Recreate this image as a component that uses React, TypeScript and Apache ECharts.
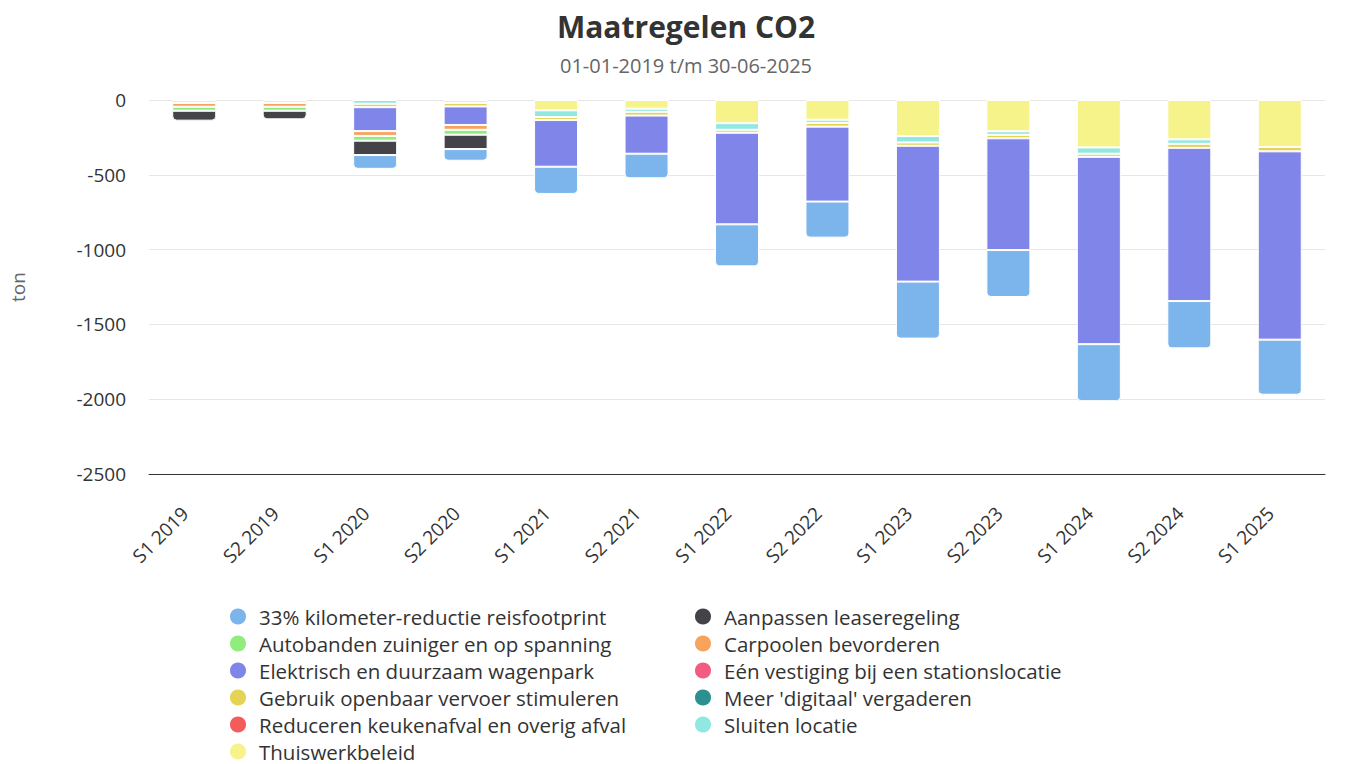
import React, { useEffect, useRef } from "react";
import * as echarts from "echarts";

const categories = [
  "S1 2019", "S2 2019", "S1 2020", "S2 2020", "S1 2021", "S2 2021", "S1 2022",
  "S2 2022", "S1 2023", "S2 2023", "S1 2024", "S2 2024", "S1 2025",
];

// values in ton (reductions, negative)
const kilometerReductie = [0, 0, -92, -78, -182, -164, -281, -241, -381, -314, -381, -316, -368];
const aanpassenLease = [-66, -57, -96, -96, 0, 0, 0, 0, 0, 0, 0, 0, 0];
const autobanden = [-27, -27, -32, -33, 0, 0, 0, 0, 0, 0, 0, 0, 0];
const carpoolen = [-25, -25, -32, -32, 0, 0, 0, 0, 0, 0, 0, 0, 0];
const elektrisch = [0, 0, -160, -124, -312, -255, -612, -501, -908, -747, -1252, -1024, -1259];
const eenVestiging = [0, 0, 0, 0, 0, 0, 0, 0, 0, 0, 0, 0, 0];
const gebruikOV = [0, 0, -23, -23, -20, -25, -20, -25, -22, -23, -21, -27, -29];
const meerDigitaal = [0, 0, 0, 0, 0, 0, 0, 0, 0, 0, 0, 0, 0];
const reducerenAfval = [0, 0, 0, 0, 0, 0, 0, 0, 0, 0, 0, 0, 0];
const sluitenLocatie = [0, 0, -25, 0, -45, -21, -44, -21, -43, -24, -42, -30, 0];
const thuiswerk = [-20, -20, 0, -20, -69, -58, -155, -132, -241, -209, -317, -263, -314];

const yTicks = { min: -2500, max: 0, interval: 500 };

const seriesDefs = [
  { name: "33% kilometer-reductie reisfootprint", data: kilometerReductie, color: "#7cb5ec" },
  { name: "Aanpassen leaseregeling", data: aanpassenLease, color: "#434348" },
  { name: "Autobanden zuiniger en op spanning", data: autobanden, color: "#90ed7d" },
  { name: "Carpoolen bevorderen", data: carpoolen, color: "#f7a35c" },
  { name: "Elektrisch en duurzaam wagenpark", data: elektrisch, color: "#8085e9" },
  { name: "Eén vestiging bij een stationslocatie", data: eenVestiging, color: "#f15c80" },
  { name: "Gebruik openbaar vervoer stimuleren", data: gebruikOV, color: "#e4d354" },
  { name: "Meer 'digitaal' vergaderen", data: meerDigitaal, color: "#2b908f" },
  { name: "Reduceren keukenafval en overig afval", data: reducerenAfval, color: "#f45b5b" },
  { name: "Sluiten locatie", data: sluitenLocatie, color: "#91e8e1" },
  { name: "Thuiswerkbeleid", data: thuiswerk, color: "#f6f38a" },
];

const FONT = "'Open Sans', 'Noto Sans', sans-serif";

export default function App() {
  const ref = useRef<HTMLDivElement>(null);

  useEffect(() => {
    if (!ref.current) return;
    const chart = echarts.init(ref.current, undefined, { renderer: "svg" });

    // stacking order: last legend series closest to zero
    const stackOrder = [...seriesDefs].reverse();
    // bottom-most non-zero segment per category gets rounded corners
    const lastIdx = categories.map((_, ci) => {
      let idx = -1;
      stackOrder.forEach((s, si) => {
        if (s.data[ci] !== 0) idx = si;
      });
      return idx;
    });

    const series = stackOrder.map((s, si) => ({
      name: s.name,
      type: "bar",
      stack: "total",
      barWidth: 44,
      itemStyle: { color: s.color, borderColor: "#ffffff", borderWidth: 1 },
      emphasis: { disabled: true },
      data: s.data.map((v, ci) => {
        if (v === 0) return "-";
        if (lastIdx[ci] === si) {
          return { value: v, itemStyle: { borderRadius: [0, 0, 4, 4] } };
        }
        return v;
      }),
    }));

    const names = seriesDefs.map((s) => s.name);
    const col1 = names.filter((_, i) => i % 2 === 0);
    const col2 = names.filter((_, i) => i % 2 === 1);

    const legendBase = {
      orient: "vertical",
      top: 601,
      height: 200,
      itemWidth: 32,
      itemHeight: 18,
      itemGap: 6,
      icon: "circle",
      selectedMode: false,
      textStyle: { fontSize: 20.5, lineHeight: 20, color: "#333333", fontFamily: FONT },
    };

    chart.setOption({
      animation: false,
      color: seriesDefs.map((s) => s.color),
      title: {
        text: "Maatregelen CO2",
        subtext: "01-01-2019 t/m 30-06-2025",
        left: "center",
        top: 6,
        itemGap: 14,
        textStyle: { fontSize: 30, fontWeight: "bold", color: "#333333", fontFamily: FONT },
        subtextStyle: { fontSize: 20, color: "#666666", fontFamily: FONT },
      },
      legend: [
        { ...legendBase, left: 223, data: col1 },
        { ...legendBase, left: 688, data: col2 },
      ],
      grid: { left: 148, right: 47, top: 100, bottom: 290, containLabel: false },
      xAxis: {
        type: "category",
        data: categories,
        axisLine: { show: true, onZero: false, lineStyle: { color: "#333333", width: 1 } },
        axisTick: { show: false },
        axisLabel: {
          rotate: 45,
          fontSize: 19,
          color: "#333333",
          fontFamily: FONT,
          margin: 27,
          padding: [0, 13, 0, 0],
          interval: 0,
        },
      },
      yAxis: {
        type: "value",
        min: yTicks.min,
        max: yTicks.max,
        interval: yTicks.interval,
        name: "ton",
        nameLocation: "middle",
        nameGap: 122,
        nameTextStyle: { fontSize: 19, color: "#666666", fontFamily: FONT },
        axisLine: { show: false },
        axisTick: { show: false },
        splitLine: { lineStyle: { color: "#e6e6e6", width: 1 } },
        axisLabel: {
          fontSize: 19,
          color: "#333333",
          fontFamily: FONT,
          margin: 23,
          formatter: (v: number) => String(v),
        },
      },
      series,
    });

    return () => chart.dispose();
  }, []);

  return (
    <div
      ref={ref}
      style={{ position: "absolute", left: 0, top: 0, width: 1372, height: 764 }}
    />
  );
}
